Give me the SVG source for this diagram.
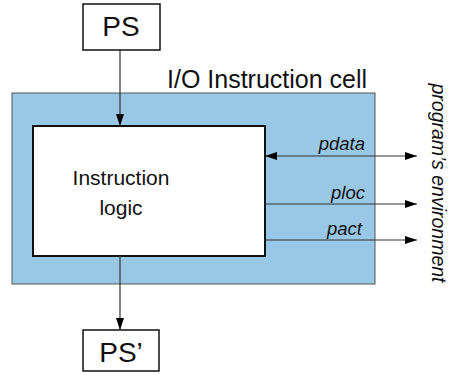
<svg xmlns="http://www.w3.org/2000/svg" width="452" height="375" viewBox="0 0 452 375">
  <defs>
    <marker id="arrow" viewBox="0 0 12 8" refX="12" refY="4" markerWidth="12" markerHeight="8" markerUnits="userSpaceOnUse" orient="auto-start-reverse">
      <path d="M0,0 L12,4 L0,8 Z" fill="#000"/>
    </marker>
    <style>
      text { font-family: "Liberation Sans", Arial, sans-serif; fill: #111; }
      .box { fill: #fff; stroke: #111; stroke-width: 1.5; }
      .cell { fill: #99c8e6; stroke: #555; stroke-width: 1; }
      .wire { stroke: #333; stroke-width: 1.2; fill: none; }
      .sig { font-size: 18.5px; font-style: italic; text-anchor: end; }
      .big { font-size: 28px; text-anchor: middle; }
    </style>
  </defs>

  <g id="io-cell">
    <rect class="cell" x="12" y="93" width="363" height="191"/>
    <text x="167" y="88" font-size="25">I/O Instruction cell</text>
  </g>

  <g id="instruction-logic">
    <rect x="33" y="126" width="232" height="130" fill="#fff" stroke="#111" stroke-width="2"/>
    <text x="121" y="185" font-size="21" text-anchor="middle">Instruction</text>
    <text x="121" y="215" font-size="21" text-anchor="middle">logic</text>
  </g>

  <g id="ps">
    <rect class="box" x="83" y="4" width="77" height="46"/>
    <text class="big" x="121" y="36">PS</text>
  </g>

  <g id="ps-next">
    <rect class="box" x="83" y="330" width="76" height="41"/>
    <text class="big" x="121" y="362">PS’</text>
  </g>

  <g id="environment">
    <text transform="translate(432,183) rotate(90)" font-size="19.5" font-style="italic" text-anchor="middle">program’s environment</text>
  </g>

  <g id="connectors">
    <line class="wire" x1="120" y1="50" x2="120" y2="126" marker-end="url(#arrow)"/>
    <line class="wire" x1="120" y1="256" x2="120" y2="330" marker-end="url(#arrow)"/>
    <line class="wire" x1="265" y1="156" x2="417" y2="156" marker-start="url(#arrow)" marker-end="url(#arrow)"/>
    <line class="wire" x1="265" y1="204" x2="417" y2="204" marker-end="url(#arrow)"/>
    <line class="wire" x1="265" y1="240" x2="417" y2="240" marker-end="url(#arrow)"/>
    <text class="sig" x="365" y="150">pdata</text>
    <text class="sig" x="365" y="199">ploc</text>
    <text class="sig" x="362" y="235">pact</text>
  </g>
</svg>
